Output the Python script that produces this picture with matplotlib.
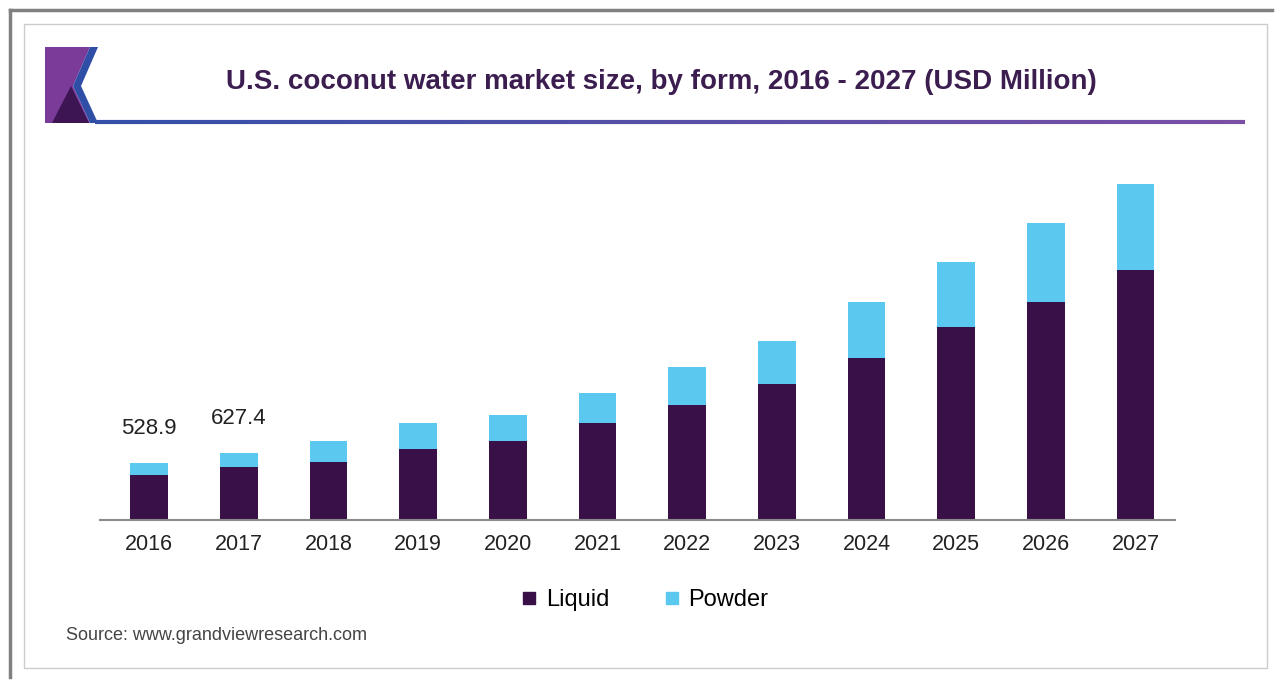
import numpy as np
import matplotlib.pyplot as plt
from matplotlib.patches import Rectangle, Polygon
from matplotlib.lines import Line2D
from matplotlib.collections import LineCollection

plt.rcParams['font.family'] = ['Liberation Sans', 'DejaVu Sans']

# data (USD Million)
years = ['2016', '2017', '2018', '2019', '2020', '2021',
         '2022', '2023', '2024', '2025', '2026', '2027']
liquid = [421, 498, 540, 661, 741, 910, 1072, 1272, 1512, 1802, 2041, 2338]
powder = [107.9, 129.4, 199, 243, 244, 280, 356, 405, 526, 608, 733, 804]
labels = {0: '528.9', 1: '627.4'}

c_liquid = '#3a1048'
c_powder = '#5bc8f0'

W, H = 1280, 684
fig = plt.figure(figsize=(W / 100, H / 100), dpi=100)


def fx(px):
    return px / W


def fy(py):
    return 1 - py / H


# frame / shadow
fig.add_artist(Line2D([fx(10), fx(1272)], [fy(10), fy(10)], color='#808080', lw=2.5))
fig.add_artist(Line2D([fx(10), fx(10)], [fy(10), fy(677)], color='#808080', lw=2.5))
fig.add_artist(Rectangle((fx(24), fy(668)), fx(1267) - fx(24), fy(24) - fy(668),
                         transform=fig.transFigure, fill=False, ec='#cccccc', lw=1))

# logo
def poly(pts, color):
    fig.add_artist(Polygon([(fx(a), fy(b)) for a, b in pts], closed=True,
                           transform=fig.transFigure, fc=color, ec='none'))

poly([(45, 47), (90, 47), (73, 86), (90, 123), (45, 123)], '#7b3b99')
poly([(52, 123), (71, 86), (89, 123)], '#3d1552')
poly([(90, 47), (98, 47), (81, 86), (98, 123), (90, 123), (73, 86)], '#2f4ea6')

# title underline with blue -> purple gradient
xs = np.linspace(fx(95), fx(1245), 120)
segs = [[(xs[i], fy(122)), (xs[i + 1], fy(122))] for i in range(len(xs) - 1)]
c1 = np.array([0.20, 0.31, 0.66])
c2 = np.array([0.48, 0.31, 0.65])
cols = [tuple(c1 + (c2 - c1) * t) for t in np.linspace(0, 1, len(segs))]
fig.add_artist(LineCollection(segs, colors=cols, linewidths=3, transform=fig.transFigure))

fig.text(fx(661), fy(82), 'U.S. coconut water market size, by form, 2016 - 2027 (USD Million)',
         ha='center', va='center', fontsize=20, fontweight='bold', color='#3b1d4f')

# chart
ax = fig.add_axes([fx(100), fy(520), fx(1175) - fx(100), fy(150) - fy(520)])
x = np.arange(len(years))
ax.bar(x, liquid, width=0.42, color=c_liquid, label='Liquid')
ax.bar(x, powder, width=0.42, bottom=liquid, color=c_powder, label='Powder')

for i, txt in labels.items():
    ax.annotate(txt, (x[i], liquid[i] + powder[i]), xytext=(0, 24),
                textcoords='offset pixels', ha='center', va='bottom',
                fontsize=16, color='#222222')

ax.set_xlim(-0.55, 11.44)
ax.set_ylim(0, 3460)
ax.set_xticks(x)
ax.set_xticklabels(years, fontsize=15.5, color='#222222')
ax.tick_params(axis='x', length=0, pad=10)
ax.set_yticks([])
for s in ['top', 'right', 'left']:
    ax.spines[s].set_visible(False)
ax.spines['bottom'].set_color('#8a8a8a')
ax.spines['bottom'].set_linewidth(1.5)

handles = [Line2D([], [], marker='s', ls='none', color=c_liquid, markersize=9),
           Line2D([], [], marker='s', ls='none', color=c_powder, markersize=9)]
fig.legend(handles, ['Liquid', 'Powder'], loc='center', bbox_to_anchor=(fx(644), fy(600)),
           ncol=2, frameon=False, fontsize=17, handletextpad=0.3, columnspacing=2.25,
           handlelength=0.8)

fig.text(fx(66), fy(636), 'Source: www.grandviewresearch.com', ha='left', va='center',
         fontsize=13, color='#444444')

fig.savefig('out.png', dpi=100)
